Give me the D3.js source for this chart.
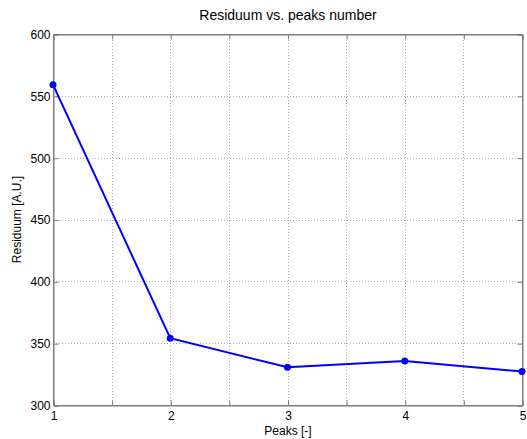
<!DOCTYPE html>
<html><head><meta charset="utf-8">
<script src="https://cdn.jsdelivr.net/npm/d3@7"></script>
<style>body{margin:0;background:#fff}svg{display:block;font-family:"Liberation Sans",Arial,sans-serif}</style>
</head><body>
<svg id="c" width="527" height="439"></svg>
<script>
const peaks = [1, 2, 3, 4, 5];
const residuum = [559, 354, 330.5, 335.5, 327];
const xTicks = [1, 2, 3, 4, 5];
const yTicks = [300, 350, 400, 450, 500, 550, 600];
const xMinor = [1.5, 2.5, 3.5, 4.5];

const svg = d3.select("#c");
const m = {l: 53, r: 522, t: 34, b: 405};
const x = d3.scaleLinear().domain([1, 5]).range([m.l, m.r]);
const y = d3.scaleLinear().domain([300, 600]).range([m.b, m.t]);
const axisCol = "#7f7f7f";

// grid
const g = svg.append("g");
g.selectAll(".vg").data(xTicks.slice(1, -1).concat(xMinor)).enter().append("line")
  .attr("x1", d => Math.round(x(d)) + 0.5).attr("x2", d => Math.round(x(d)) + 0.5)
  .attr("y1", m.t).attr("y2", m.b)
  .attr("stroke", "#b0b0b0").attr("stroke-width", 1).attr("stroke-dasharray", "1,2");
g.selectAll(".hg").data(yTicks.slice(1, -1)).enter().append("line")
  .attr("y1", d => Math.round(y(d)) + 0.5).attr("y2", d => Math.round(y(d)) + 0.5)
  .attr("x1", m.l).attr("x2", m.r)
  .attr("stroke", "#b0b0b0").attr("stroke-width", 1).attr("stroke-dasharray", "1,2");

// box
svg.append("rect").attr("x", m.l + 0.5).attr("y", m.t + 0.5)
  .attr("width", m.r - m.l).attr("height", m.b - m.t)
  .attr("fill", "none").attr("stroke", axisCol).attr("stroke-width", 1);

// axes
const xAxis = d3.axisBottom(x).tickValues(xTicks.concat(xMinor)).tickSize(-5).tickPadding(6)
  .tickFormat(d => xTicks.includes(d) ? d3.format("d")(d) : "");
const xa = svg.append("g").attr("transform", `translate(0.5,${m.b + 0.5})`).call(xAxis);
const yAxis = d3.axisLeft(y).tickValues(yTicks).tickSize(-5).tickPadding(3);
const ya = svg.append("g").attr("transform", `translate(${m.l + 0.5},0.5)`).call(yAxis);
// top/right ticks
svg.append("g").attr("transform", `translate(0.5,${m.t + 0.5})`)
  .call(d3.axisTop(x).tickValues(xTicks.concat(xMinor)).tickSize(-5).tickFormat(""));
svg.append("g").attr("transform", `translate(${m.r + 0.5},0.5)`)
  .call(d3.axisRight(y).tickValues(yTicks).tickSize(-5).tickFormat(""));
svg.selectAll(".domain").attr("stroke", axisCol);
svg.selectAll(".tick line").attr("stroke", axisCol);
svg.selectAll(".tick text").attr("fill", "#000").attr("font-size", 12)
  .attr("font-family", '"Liberation Sans",Arial,sans-serif');
xa.selectAll(".tick text").attr("dy", "0.71em");

// line
svg.append("path").datum(peaks.map((p, i) => [p, residuum[i]]))
  .attr("d", d3.line().x(d => x(d[0])).y(d => y(d[1])))
  .attr("fill", "none").attr("stroke", "#0000ff").attr("stroke-width", 2);
svg.selectAll(".pt").data(peaks).enter().append("circle")
  .attr("cx", (d, i) => x(d)).attr("cy", (d, i) => y(residuum[i])).attr("r", 3.5)
  .attr("fill", "#0000ff");

// texts
svg.append("text").attr("x", 288).attr("y", 20).attr("text-anchor", "middle")
  .attr("font-size", 14).text("Residuum vs. peaks number");
svg.append("text").attr("x", 288).attr("y", 435).attr("text-anchor", "middle")
  .attr("font-size", 12).text("Peaks [-]");
svg.append("text").attr("transform", `translate(21,${(m.t + m.b) / 2}) rotate(-90)`)
  .attr("text-anchor", "middle").attr("font-size", 12).text("Residuum [A.U.]");
</script>
</body></html>
